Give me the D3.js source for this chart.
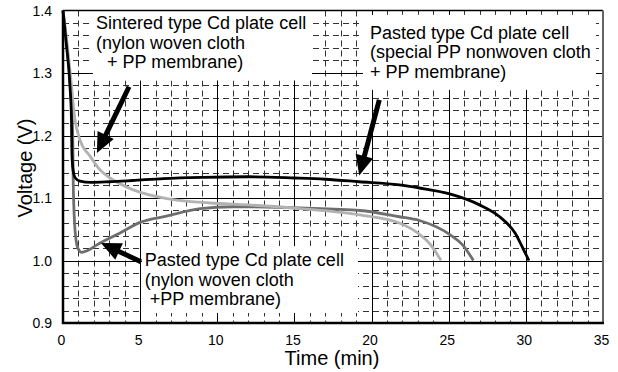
<!DOCTYPE html>
<html>
<head>
<meta charset="utf-8">
<script src="https://cdn.jsdelivr.net/npm/d3@7"></script>
<style>
  body { margin: 0; background: #fff; }
  text { font-family: "Liberation Sans", Arial, sans-serif; fill: #000; }
</style>
</head>
<body>
<div id="chart"></div>
<script>
// ticks
var timeTicks = [0, 5, 10, 15, 20, 25, 30, 35];
var voltTicks = [0.9, 1.0, 1.1, 1.2, 1.3, 1.4];

// discharge curves [time (min), voltage (V)]
var pastedPP = [
  [0, 1.4], [0.2, 1.35], [0.45, 1.28], [0.55, 1.225], [0.58, 1.17], [0.65, 1.145],
  [0.8, 1.132], [1.1, 1.127], [1.8, 1.125], [3, 1.126], [4.5, 1.128], [6.5, 1.131],
  [9, 1.133], [12, 1.134], [15, 1.132], [17, 1.13], [19.2, 1.126], [21.8, 1.121],
  [23.1, 1.116], [25, 1.107], [27, 1.089], [28.3, 1.07], [29.3, 1.044],
  [29.8, 1.02], [30.2, 1.0]
];
var sintered = [
  [0, 1.4], [0.3, 1.34], [0.55, 1.28], [0.7, 1.24], [0.78, 1.225], [1.1, 1.193],
  [1.75, 1.167], [2.4, 1.145], [3.05, 1.132], [4.56, 1.113], [6.72, 1.099],
  [9.5, 1.092], [12, 1.089], [15.4, 1.083], [19.25, 1.073], [21.8, 1.06],
  [23.1, 1.042], [23.8, 1.026], [24.5, 1.0]
];
var pastedNylon = [
  [0, 1.4], [0.3, 1.33], [0.5, 1.27], [0.63, 1.2], [0.66, 1.13], [0.75, 1.06],
  [0.9, 1.025], [1.05, 1.016], [1.2, 1.013], [1.6, 1.016], [2.2, 1.025],
  [3.7, 1.044], [5, 1.061], [6.7, 1.071], [8.9, 1.083], [11, 1.086],
  [15.4, 1.084], [19.25, 1.08], [21.8, 1.07], [23.1, 1.064], [25.1, 1.041],
  [25.9, 1.025], [26.6, 1.0]
];

// labels: box [t0, t1, v0, v1], text anchor [t, v]
var labelBoxes = [
  {box: [1.94, 16.14, 1.4, 1.288], at: [2.14, 1.4], lines: ["Sintered type Cd plate cell", "(nylon woven cloth", " + PP membrane)"], indent: [0, 0, 6]},
  {box: [19.44, 34.54, 1.393, 1.273], at: [19.9, 1.385], lines: ["Pasted type Cd plate cell", "(special PP nonwoven cloth", "+ PP membrane)"], indent: [0, 0, 0]},
  {box: [5.12, 19.12, 1.023, 0.916], at: [5.3, 1.021], lines: ["Pasted type Cd plate cell", "(nylon woven cloth", "+PP membrane)"], indent: [0, 0, 5]}
];
// arrows [tail, tip] in data units
var arrows = [
  [[4.28, 1.278], [2.2, 1.172]],
  [[20.5, 1.257], [19.2, 1.136]],
  [[5.05, 0.998], [2.46, 1.028]]
];

var W = 618, H = 372;
var svg = d3.select("#chart").append("svg")
  .attr("width", W)
  .attr("height", H);

var x = d3.scaleLinear().domain([0, 35]).range([63, 603]);
var y = d3.scaleLinear().domain([0.9, 1.4]).range([323, 10.5]);

function px(v) { return Math.round(v) + 0.5; }

// minor dashed grid
var minorT = d3.range(0, 36).filter(function(t) { return t % 5 != 0; });
var minorV = d3.range(0, 26).filter(function(i) { return i % 5 != 0; }).map(function(i) { return 0.9 + i * 0.02; });

var grid = svg.append("g");
grid.selectAll(".vmin").data(minorT).enter().append("line")
  .attr("x1", function(d) { return px(x(d)); })
  .attr("x2", function(d) { return px(x(d)); })
  .attr("y1", y(1.4)).attr("y2", y(0.9))
  .attr("stroke", "#333").attr("stroke-width", 1)
  .attr("stroke-dasharray", "6,4");
grid.selectAll(".hmin").data(minorV).enter().append("line")
  .attr("y1", function(d) { return px(y(d)); })
  .attr("y2", function(d) { return px(y(d)); })
  .attr("x1", x(0)).attr("x2", x(35))
  .attr("stroke", "#333").attr("stroke-width", 1)
  .attr("stroke-dasharray", "6,4");

// major solid grid
grid.selectAll(".vmaj").data(timeTicks.slice(1, -1)).enter().append("line")
  .attr("x1", function(d) { return px(x(d)); })
  .attr("x2", function(d) { return px(x(d)); })
  .attr("y1", y(1.4)).attr("y2", y(0.9))
  .attr("stroke", "#000").attr("stroke-width", 1);
grid.selectAll(".hmaj").data(voltTicks.slice(1, -1)).enter().append("line")
  .attr("y1", function(d) { return px(y(d)); })
  .attr("y2", function(d) { return px(y(d)); })
  .attr("x1", x(0)).attr("x2", x(35))
  .attr("stroke", "#000").attr("stroke-width", 1);

// white label boxes
svg.selectAll(".lbox").data(labelBoxes).enter().append("rect")
  .attr("x", function(d) { return x(d.box[0]); })
  .attr("y", function(d) { return y(d.box[2]); })
  .attr("width", function(d) { return x(d.box[1]) - x(d.box[0]); })
  .attr("height", function(d) { return y(d.box[3]) - y(d.box[2]); })
  .attr("fill", "#fff");

// curves
var line = d3.line()
  .x(function(d) { return x(d[0]); })
  .y(function(d) { return y(d[1]); })
  .curve(d3.curveMonotoneX);

var series = [
  {data: pastedNylon, color: "#6e6e6e"},
  {data: sintered, color: "#b2b2b2"},
  {data: pastedPP, color: "#000"}
];
svg.selectAll(".curve").data(series).enter().append("path")
  .attr("d", function(d) { return line(d.data); })
  .attr("fill", "none")
  .attr("stroke", function(d) { return d.color; })
  .attr("stroke-width", 2.8)
  .attr("stroke-linejoin", "round");

// label text
labelBoxes.forEach(function(b) {
  var t = svg.append("text")
    .attr("x", x(b.at[0]))
    .attr("y", y(b.at[1]))
    .attr("font-size", 18);
  b.lines.forEach(function(s, i) {
    t.append("tspan")
      .attr("x", x(b.at[0]) + b.indent[i])
      .attr("dy", i == 0 ? "1.05em" : "1.08em")
      .attr("xml:space", "preserve")
      .text(s);
  });
});

// arrows
arrows.forEach(function(a) {
  var x0 = x(a[0][0]), y0 = y(a[0][1]), x1 = x(a[1][0]), y1 = y(a[1][1]);
  var dx = x1 - x0, dy = y1 - y0, len = Math.sqrt(dx * dx + dy * dy);
  var ux = dx / len, uy = dy / len, hl = 20, hw = 9;
  var bx = x1 - ux * hl, by = y1 - uy * hl;
  svg.append("line")
    .attr("x1", x0).attr("y1", y0).attr("x2", bx + ux * 2).attr("y2", by + uy * 2)
    .attr("stroke", "#000").attr("stroke-width", 5);
  svg.append("path")
    .attr("d", "M" + x1 + "," + y1 + "L" + (bx - uy * hw) + "," + (by + ux * hw) +
      "L" + (bx + uy * hw) + "," + (by - ux * hw) + "Z")
    .attr("fill", "#000");
});

// frame
svg.append("line").attr("x1", x(0)).attr("x2", x(35)).attr("y1", y(1.4)).attr("y2", y(1.4))
  .attr("stroke", "#000").attr("stroke-width", 1.5);
svg.append("line").attr("x1", x(35)).attr("x2", x(35)).attr("y1", y(1.4)).attr("y2", y(0.9))
  .attr("stroke", "#666").attr("stroke-width", 2);
svg.append("line").attr("x1", x(0)).attr("x2", x(0)).attr("y1", y(1.4)).attr("y2", y(0.9) + 1)
  .attr("stroke", "#000").attr("stroke-width", 2.5);
svg.append("line").attr("x1", x(0) - 1).attr("x2", x(35) + 1).attr("y1", y(0.9)).attr("y2", y(0.9))
  .attr("stroke", "#000").attr("stroke-width", 2.5);

// tick labels
svg.selectAll(".xl").data(timeTicks).enter().append("text")
  .attr("x", function(d) { return x(d) - 1.5; })
  .attr("y", 345)
  .attr("text-anchor", "middle")
  .attr("font-size", 14)
  .text(function(d) { return d; });
svg.selectAll(".yl").data(voltTicks).enter().append("text")
  .attr("x", 52)
  .attr("y", function(d) { return y(d) + 5; })
  .attr("text-anchor", "end")
  .attr("font-size", 14)
  .text(function(d) { return d3.format(".1f")(d); });

// axis titles
svg.append("text")
  .attr("x", 332).attr("y", 365)
  .attr("text-anchor", "middle")
  .attr("font-size", 20)
  .text("Time (min)");
svg.append("text")
  .attr("transform", "translate(32,168) rotate(-90)")
  .attr("text-anchor", "middle")
  .attr("font-size", 20)
  .text("Voltage (V)");
</script>
</body>
</html>
